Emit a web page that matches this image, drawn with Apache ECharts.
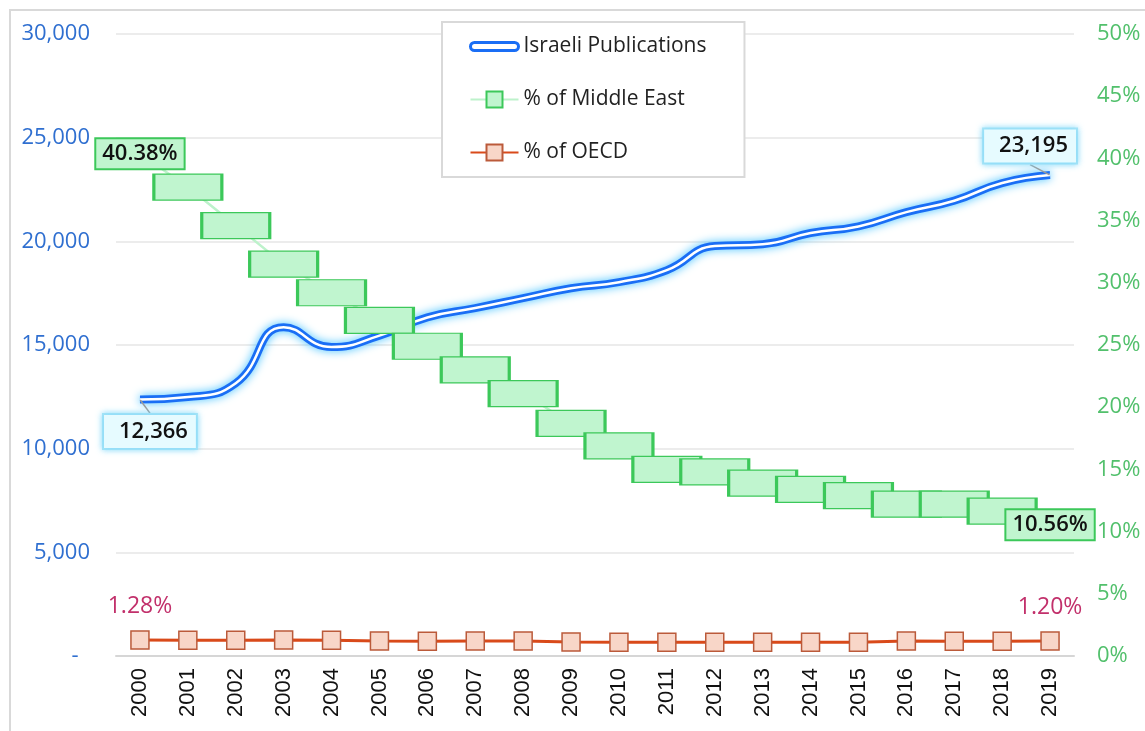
<!DOCTYPE html>
<html>
<head>
<meta charset="utf-8">
<script src="https://cdn.jsdelivr.net/npm/echarts@6/dist/echarts.min.js"></script>
<style>html,body{margin:0;padding:0;background:#fff}#c{width:1145px;height:731px}</style>
</head>
<body>
<div id="c"></div>
<script>
var years = ['2000','2001','2002','2003','2004','2005','2006','2007','2008','2009','2010','2011','2012','2013','2014','2015','2016','2017','2018','2019'];
var publications = [12366,12490,13160,15860,14900,15450,16330,16780,17260,17740,18030,18610,19770,19860,20400,20720,21410,21960,22810,23195];
var pctMiddleEast = [40.38,37.7,34.6,31.5,29.2,26.97,24.9,23.0,21.1,18.7,16.9,15.0,14.8,13.9,13.4,12.9,12.2,12.2,11.65,10.56];
var pctOECD = [1.28,1.27,1.27,1.28,1.27,1.20,1.19,1.20,1.21,1.12,1.11,1.10,1.11,1.10,1.10,1.10,1.20,1.19,1.19,1.20];
var leftTicks = {min:0, max:30000, interval:5000};
var rightTicks = {min:0, max:50, interval:5};

var n = years.length;
function ends(arr, extra){
  return arr.map(function(v,i){
    var o = {value:v};
    if (i===0 || i===n-1) { o.label = Object.assign({show:true}, extra||{}); }
    return o;
  });
}

var chart = echarts.init(document.getElementById('c'));
var font = '"Open Sans", "Noto Sans", sans-serif';
chart.setOption({
  animation:false,
  backgroundColor:'#fff',
  graphic:[{type:'rect', shape:{x:10,y:10,width:1300,height:900}, style:{fill:'none', stroke:'#d9d9d9', lineWidth:2}, silent:true, z:-10}],
  grid:{left:116, right:71, top:34, bottom:75},
  legend:{
    orient:'vertical', left:442, top:22,
    backgroundColor:'#fff', borderColor:'#d9d9d9', borderWidth:2,
    padding:[14,38,14,27], itemGap:32, itemWidth:48, itemHeight:20,
    textStyle:{fontFamily:font, fontSize:21, color:'#222', lineHeight:20},
    data:[
      {name:'Israeli Publications', icon:'path://M4,0 H44 A4,4 0 0 1 44,8 H4 A4,4 0 0 1 4,0 Z',
        itemStyle:{color:'#ffffff', borderColor:'#1a6ef5', borderWidth:3}},
      {name:'% of Middle East'},
      {name:'% of OECD'}
    ]
  },
  xAxis:{
    type:'category', data:years, boundaryGap:true,
    axisTick:{show:false},
    axisLine:{lineStyle:{color:'#d6d6d6', width:2}},
    axisLabel:{rotate:90, margin:12, fontFamily:'"Liberation Sans", Arial, sans-serif', fontSize:22, color:'#111'}
  },
  yAxis:[
    {type:'value', min:leftTicks.min, max:leftTicks.max, interval:leftTicks.interval,
      axisLine:{show:false}, axisTick:{show:false},
      splitLine:{lineStyle:{color:'#ececec', width:2}},
      axisLabel:{margin:26, fontFamily:font, fontSize:22, color:'#2f6fd0',
        formatter:function(v){ return v===0 ? '-  ' : v.toLocaleString('en-US'); }}},
    {type:'value', min:rightTicks.min, max:rightTicks.max, interval:rightTicks.interval,
      axisLine:{show:false}, axisTick:{show:false}, splitLine:{show:false},
      axisLabel:{margin:23, fontFamily:font, fontSize:22, color:'#52c06c', formatter:'{value}%'}}
  ],
  series:[
    {
      name:'Israeli Publications', type:'line', yAxisIndex:0, z:2, smooth:true,
      symbol:'circle', symbolSize:1, showSymbol:true,
      lineStyle:{color:'#1a6ef5', width:8, shadowBlur:10, shadowColor:'rgba(70,195,255,1)'},
      itemStyle:{color:'rgba(0,0,0,0)'},
      data: ends(publications, {}),
      label:{show:false, position:'inside', fontFamily:font, fontSize:22, fontWeight:600, color:'#111',
        formatter:function(p){ return p.value.toLocaleString('en-US'); },
        backgroundColor:'#e6fbff', borderColor:'#a6e4f7', borderWidth:2, padding:[6,8,5,15],
        shadowBlur:6, shadowColor:'rgba(120,215,250,0.8)'},
      labelLine:{show:true, lineStyle:{color:'#9a9a9a', width:1.5}},
      labelLayout:function(p){
        if (p.dataIndex===0) return {dx:10, dy:32};
        if (p.dataIndex===n-1) return {dx:-20, dy:-29};
        return {};
      }
    },
    {
      name:'core', type:'line', yAxisIndex:0, z:2, smooth:true, symbol:'none', silent:true,
      lineStyle:{color:'#ffffff', width:2.5},
      data: publications
    },
    {
      name:'% of Middle East', type:'line', yAxisIndex:1, z:4,
      symbol:'rect', symbolSize:[68,26],
      lineStyle:{color:'#bdf2cb', width:2.5},
      itemStyle:{color:'#c0f5cf', borderColor:'#3cc85a', borderWidth:2},
      data: ends(pctMiddleEast, {}),
      label:{show:false, position:'inside', fontFamily:font, fontSize:22, fontWeight:600, color:'#111',
        formatter:function(p){ return p.value.toFixed(2)+'%'; },
        backgroundColor:'#c0f5cf', borderColor:'#3cc85a', borderWidth:2, padding:[4,6,3,6]}
    },
    {
      name:'% of OECD', type:'line', yAxisIndex:1, z:4,
      symbol:'rect', symbolSize:18,
      lineStyle:{color:'#d94a1a', width:3},
      itemStyle:{color:'#f8d6c8', borderColor:'#bb5a3a', borderWidth:1.5},
      data: ends(pctOECD, {}),
      label:{show:false, position:'top', distance:12, fontFamily:font, fontSize:23, color:'#c2306b',
        formatter:function(p){ return p.value.toFixed(2)+'%'; }}
    }
  ]
});
</script>
</body>
</html>
